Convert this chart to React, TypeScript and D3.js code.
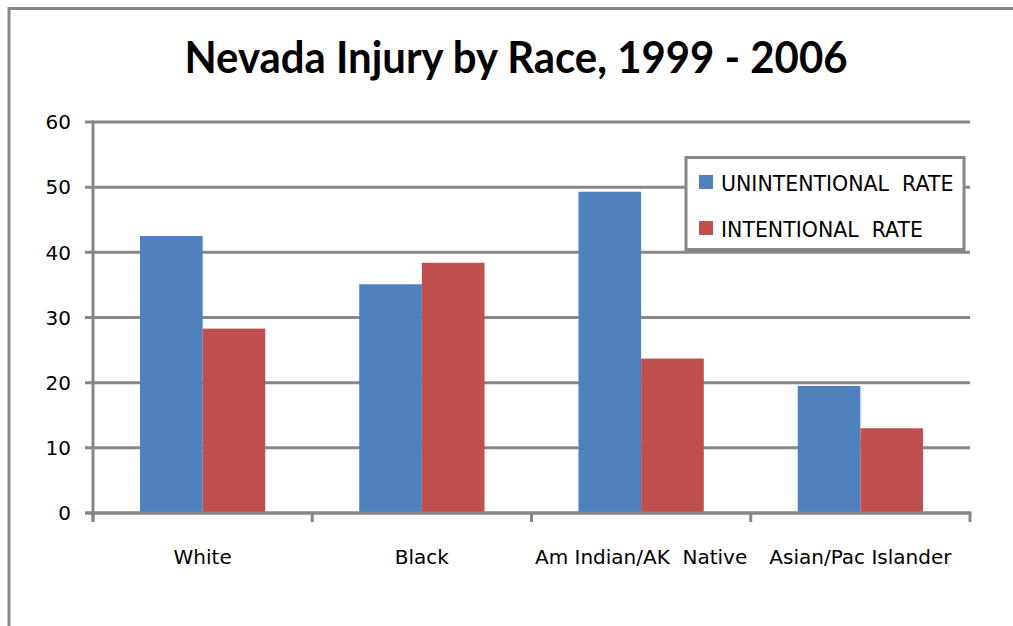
import React from "react";
import * as d3 from "d3";

// Rates per 100,000 by race group
const categories = ["White", "Black", "Am Indian/AK  Native", "Asian/Pac Islander"];
const seriesNames = ["UNINTENTIONAL  RATE", "INTENTIONAL  RATE"];
const unintentionalRate = [42.5, 35.1, 49.3, 19.5];
const intentionalRate = [28.3, 38.4, 23.7, 13.0];
const yTicks = [0, 10, 20, 30, 40, 50, 60];
const seriesColors = ["#4F81BD", "#C0504D"];

const W = 1013;
const H = 626;
const plot = { left: 93, right: 970, top: 122, bottom: 513 };
const gray = "#878787";
const font = "'DejaVu Sans', sans-serif";

export default function App() {
  const x = d3.scaleBand<string>().domain(categories).range([plot.left, plot.right]).padding(0);
  const xInner = d3
    .scaleBand<number>()
    .domain([0, 1])
    .range([0, x.bandwidth()])
    .paddingInner(0)
    .paddingOuter(0.75);
  const y = d3.scaleLinear().domain([0, 60]).range([plot.bottom, plot.top]);

  const series = [unintentionalRate, intentionalRate];
  const catEdges = [...categories.map((c) => x(c) as number), plot.right];

  return (
    <svg
      width={W}
      height={H}
      style={{ position: "absolute", left: 0, top: 0, background: "#fff" }}
    >
      <rect x={0} y={0} width={W} height={H} fill="#fff" />
      {/* chart frame */}
      <rect x={9} y={8.5} width={1010} height={640} fill="none" stroke={gray} strokeWidth={3} />

      {/* title */}
      <text
        x={516}
        y={72.5}
        textAnchor="middle"
        fontFamily="Lato, 'Open Sans', sans-serif"
        fontWeight="bold"
        fontSize={44}
        textLength={663}
        lengthAdjust="spacingAndGlyphs"
        fill="#000"
      >
        Nevada Injury by Race, 1999 - 2006
      </text>

      {/* gridlines and y ticks */}
      {yTicks.map((t) => (
        <g key={t}>
          <line x1={85} x2={plot.right} y1={y(t)} y2={y(t)} stroke={gray} strokeWidth={3} />
          <text
            x={71}
            y={y(t)}
            dy="0.36em"
            textAnchor="end"
            fontFamily={font}
            fontSize={20}
            fill="#000"
          >
            {t}
          </text>
        </g>
      ))}

      {/* bars */}
      {categories.map((c, i) =>
        series.map((vals, s) => (
          <rect
            key={`${c}-${s}`}
            x={(x(c) as number) + (xInner(s) as number)}
            y={y(vals[i])}
            width={xInner.bandwidth()}
            height={y(0) - y(vals[i])}
            fill={seriesColors[s]}
          />
        ))
      )}

      {/* axes */}
      <line x1={plot.left} x2={plot.left} y1={plot.top - 1.5} y2={plot.bottom + 9} stroke={gray} strokeWidth={3} />
      <line x1={85} x2={plot.right + 1.5} y1={plot.bottom} y2={plot.bottom} stroke={gray} strokeWidth={3} />
      {catEdges.map((e, i) => (
        <line key={i} x1={e} x2={e} y1={plot.bottom} y2={plot.bottom + 9} stroke={gray} strokeWidth={3} />
      ))}

      {/* category labels */}
      {categories.map((c) => (
        <text
          key={c}
          x={(x(c) as number) + x.bandwidth() / 2}
          y={564}
          textAnchor="middle"
          fontFamily={font}
          fontSize={20}
          fill="#000"
          style={{ whiteSpace: "pre" }}
        >
          {c}
        </text>
      ))}

      {/* legend */}
      <rect x={686} y={157.5} width={278} height={92} fill="#fff" stroke={gray} strokeWidth={3} />
      {seriesNames.map((name, s) => (
        <g key={name} transform={`translate(0, ${s * 46})`}>
          <rect x={699} y={175} width={14} height={14} fill={seriesColors[s]} />
          <text
            x={721}
            y={190.5}
            fontFamily={font}
            fontSize={20.5}
            fill="#000"
            style={{ whiteSpace: "pre" }}
          >
            {name}
          </text>
        </g>
      ))}
    </svg>
  );
}
